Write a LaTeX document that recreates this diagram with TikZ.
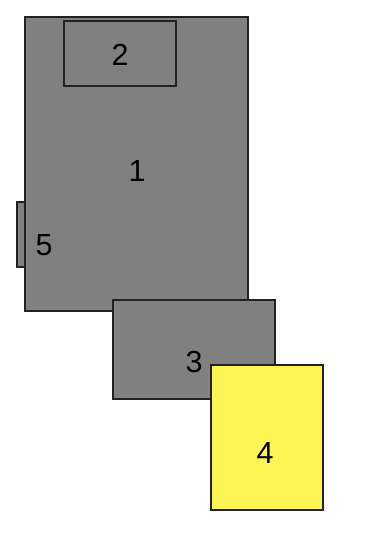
\documentclass[tikz,border=0pt]{standalone}
\usepackage{fontspec}
\setmainfont{Liberation Sans}
\definecolor{boxgray}{RGB}{128,128,128}
\definecolor{boxyellow}{RGB}{252,245,85}
\definecolor{edge}{RGB}{34,34,34}
\begin{document}
\begin{tikzpicture}[x=1pt,y=-1pt,
  part/.style={draw=edge,line width=1.3pt,fill=boxgray},
  lbl/.style={font=\fontsize{30.5}{30.5}\selectfont,text=black,inner sep=0pt}]
\useasboundingbox (0,0) rectangle (382,540);
\draw[part] (25,17) rectangle (248,311);
\draw[part] (64,21) rectangle (176,86);
\draw[part] (17,202) rectangle (25,267);
\draw[part] (113,300) rectangle (275,399);
\draw[part,fill=boxyellow] (211,365) rectangle (323,510);
\node[lbl] (l1) at (137,171) {1};
\node[lbl] (l2) at (120,55) {2};
\node[lbl] (l3) at (194,362) {3};
\node[lbl] (l4) at (265,453) {4};
\node[lbl] (l5) at (44,245) {5};
\end{tikzpicture}
\end{document}
